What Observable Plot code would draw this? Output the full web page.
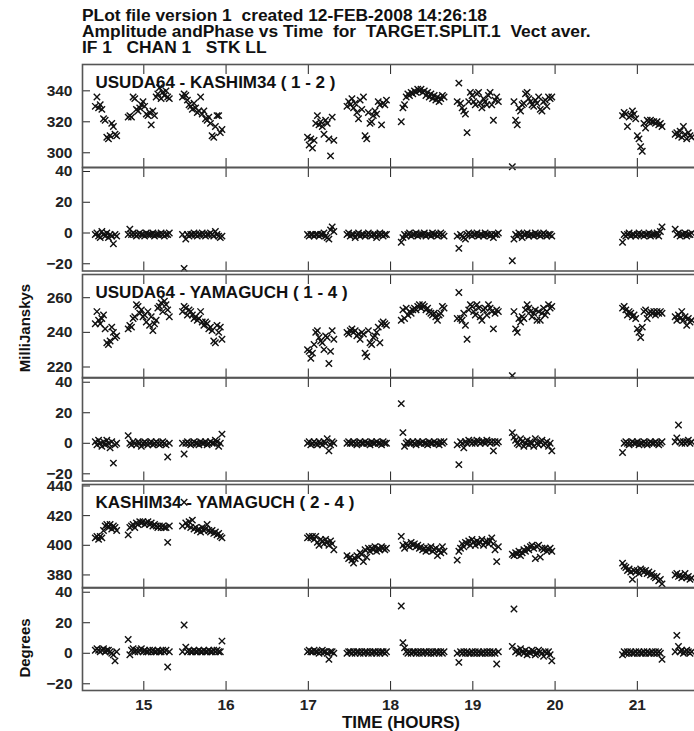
<!DOCTYPE html>
<html><head><meta charset="utf-8">
<script src="https://cdn.jsdelivr.net/npm/d3@7"></script>
<script src="https://cdn.jsdelivr.net/npm/@observablehq/plot@0.6"></script>
<style>
html,body{margin:0;padding:0;background:#fff;}
body{width:694px;height:731px;overflow:hidden;position:relative;font-family:"Liberation Sans",Arial,sans-serif;font-weight:bold;color:#111;}
#title{position:absolute;left:82px;top:7px;font-size:17.4px;line-height:16px;white-space:pre;}
.ylab{position:absolute;left:24px;font-size:15px;line-height:15px;white-space:nowrap;transform:translate(-50%,-50%) rotate(-90deg);}
#xlab{position:absolute;left:401px;top:714px;font-size:17px;line-height:17px;white-space:nowrap;transform:translateX(-50%);}
.panel{position:absolute;left:0;}
</style></head>
<body>
<div id="title">PLot file version 1  created 12-FEB-2008 14:26:18
Amplitude andPhase vs Time  for  TARGET.SPLIT.1  Vect aver.
IF 1   CHAN 1   STK LL</div>
<div class="ylab" style="top:328px">MilliJanskys</div>
<div class="ylab" style="top:648px">Degrees</div>
<div id="xlab">TIME (HOURS)</div>
<div id="charts"></div>
<script>
// ---- data (hours; mJy; degrees), one sub-array per scan ----
const scanTimes = [
 [14.41,14.43,14.45,14.47,14.49,14.51,14.53,14.55,14.57,14.59,14.61,14.63,14.65,14.67],
 [14.81,14.83,14.85,14.87,14.89,14.91,14.93,14.95,14.97,14.99,15.01,15.03,15.05,15.07,15.09,15.11,15.13,15.15,15.17,15.19,15.21,15.23,15.25,15.27,15.29,15.31],
 [15.47,15.49,15.51,15.53,15.55,15.57,15.59,15.61,15.63,15.65,15.67,15.69,15.71,15.73,15.75,15.77,15.79,15.81,15.83,15.85,15.87,15.89,15.91,15.93,15.95],
 [16.99,17.01,17.03,17.05,17.07,17.09,17.11,17.13,17.15,17.17,17.19,17.21,17.23,17.25,17.27,17.29,17.31],
 [17.47,17.49,17.51,17.53,17.55,17.57,17.59,17.61,17.63,17.65,17.67,17.69,17.71,17.73,17.75,17.77,17.79,17.81,17.83,17.85,17.87,17.89,17.91,17.93,17.95],
 [18.13,18.15,18.17,18.19,18.21,18.23,18.25,18.27,18.29,18.31,18.33,18.35,18.37,18.39,18.41,18.43,18.45,18.47,18.49,18.51,18.53,18.55,18.57,18.59,18.61,18.63,18.65],
 [18.81,18.83,18.85,18.87,18.89,18.91,18.93,18.95,18.97,18.99,19.01,19.03,19.05,19.07,19.09,19.11,19.13,19.15,19.17,19.19,19.21,19.23,19.25,19.27,19.29,19.31],
 [19.48,19.50,19.52,19.54,19.56,19.58,19.60,19.62,19.64,19.66,19.68,19.70,19.72,19.74,19.76,19.78,19.80,19.82,19.84,19.86,19.88,19.90,19.92,19.94,19.96],
 [20.82,20.84,20.86,20.88,20.90,20.92,20.94,20.96,20.98,21.00,21.02,21.04,21.06,21.08,21.10,21.12,21.14,21.16,21.18,21.20,21.22,21.24,21.26,21.28,21.30],
 [21.46,21.48,21.50,21.52,21.54,21.56,21.58,21.60,21.62,21.64,21.66]
];
const amp12 = [
 [330,336,329,331,328,322,321,310,309,311,319,317,312,311],
 [323,324,323,336,335,328,327,329,331,333,330,325,324,326,318,327,324,336,338,342,335,339,337,340,336,335],
 [336,338,337,334,331,330,328,332,329,326,327,336,325,327,322,321,323,319,311,310,317,324,324,313,315],
 [310,305,309,303,308,319,324,318,320,317,312,321,319,309,298,323,308],
 [330,333,331,335,329,332,326,322,334,328,336,311,309,326,319,320,324,327,325,333,331,318,332,331,334],
 [320,329,331,336,338,337,339,338,340,339,341,340,341,339,340,337,339,336,338,335,337,334,336,333,335,337,336],
 [333,345,332,329,327,325,313,333,339,337,333,331,338,339,332,329,335,333,331,337,339,331,321,334,336,333],
 [291,333,321,318,329,327,331,332,338,339,335,333,331,330,334,332,336,328,327,333,334,330,336,335,336],
 [324,326,325,317,323,324,327,325,322,311,309,304,301,319,316,321,320,321,320,320,319,320,318,319,317],
 [312,313,311,314,310,317,312,309,313,311,310]
];
const phs12 = [
 [-1,0,-2,-3,1,-1,-2,0,-3,-1,-2,-7,-1,-2],
 [-1,2.5,-1,0,-1,-2,-1,0,-1,-1,-2,0,-1,-1,-1,0,-2,-1,-1,-1,0,-1,-2,-1,-1,0],
 [-1,-23,-4,-1,-2,-1,-1,0,-1,-2,-1,-1,0,-1,-2,-1,-1,0,-1,-2,1,-1,-2,-3,-2],
 [-1,-2,-1,-1,-2,-1,-1,-2,-1,-1,0,-2,-3,-4,2,4,1],
 [-1,0,-2,-1,-1,-3,-1,0,-2,-1,-1,-2,-1,0,-1,-2,-1,-1,-3,-1,0,-1,-2,-1,-1],
 [-6,-3,-1,-2,-1,0,-2,-1,-1,0,-2,-1,-1,-1,0,-2,-1,-1,-2,0,-1,-1,-2,-1,0,-1,-2],
 [-2,-10,-1,-2,-3,-4,-1,0,-1,-2,-1,-1,0,-2,-1,-1,-2,0,-1,-1,-2,-1,-3,-1,-1,0],
 [-18,-4,-1,-2,0,-1,-3,-1,-1,0,-2,-1,-1,-2,0,-1,-1,-2,-1,0,-1,-2,-1,-1,-2],
 [-6,-1,-2,-1,0,-2,-1,-1,-2,-1,0,-1,-1,-2,-1,-1,0,-2,-1,-1,-1,0,-2,1,4],
 [2.5,-1,0,-2,-1,-1,0,-2,-1,-1,0]
];
const amp14 = [
 [245,252,247,245,248,250,242,234,233,235,243,240,237,238],
 [242,244,243,248,249,256,255,251,253,249,250,246,252,244,249,241,245,247,254,255,257,252,258,256,253,249],
 [252,255,254,250,253,252,250,248,249,247,248,252,246,244,246,245,242,243,241,235,234,244,240,243,236],
 [230,229,225,228,233,240,241,237,235,234,230,238,237,222,229,241,236],
 [240,239,241,242,240,241,238,239,236,240,239,228,226,241,234,233,237,238,240,243,234,245,246,245,244],
 [247,253,248,254,250,252,251,253,254,253,255,256,254,256,255,253,254,252,251,250,251,249,247,250,251,255,254],
 [248,263,248,247,251,244,236,253,256,255,252,250,256,254,249,247,253,254,250,256,254,252,242,251,253,252],
 [215,252,242,240,248,246,249,248,253,256,254,252,249,251,253,247,252,247,251,254,250,252,256,254,255],
 [254,255,253,250,252,251,249,250,248,242,240,237,243,252,253,248,251,252,251,252,250,252,251,252,251],
 [249,247,250,248,252,247,249,244,248,246,247]
];
const phs14 = [
 [1,-1,2,0,-2,1,-1,2,0,-3,1,-13,-1,0],
 [5,0,-1,1,0,-1,1,0,-2,0,1,0,-1,0,1,-1,0,1,0,-1,0,1,0,-1,-9,0],
 [0,-7,0,1,0,-1,0,1,0,0,-1,1,0,0,1,-1,0,1,0,0,2,1,-2,0,6],
 [0,1,-1,0,1,0,-1,1,0,-1,1,0,3,-5,-1,1,0],
 [0,1,0,0,1,0,-1,0,1,0,0,1,0,0,-1,1,0,0,1,0,0,-1,1,0,0],
 [26,7,-2,0,1,0,0,1,0,-1,1,0,0,1,0,0,-1,1,0,0,1,0,0,-1,1,0,1],
 [-1,-14,1,0,-3,1,0,2,1,0,1,0,2,1,0,1,1,0,2,1,0,1,-5,1,0,1],
 [7,4,2,0,-1,3,1,-2,0,2,-1,1,0,-2,3,0,-1,1,2,-1,0,1,-2,0,-5],
 [-6,0,1,0,-1,0,1,0,0,1,-1,0,0,1,0,-1,0,1,0,0,1,0,-1,0,1],
 [1,3.5,12,1,0,1,0,1,2,0,1]
];
const amp24 = [
 [405,406,404,406,405,410,413,414,412,414,411,413,412,410],
 [407,412,413,414,412,415,414,416,415,416,414,415,416,414,415,413,414,413,412,413,412,413,412,412,402,413],
 [413,429,415,413,416,412,417,411,412,410,411,409,412,410,411,414,410,409,410,408,409,407,408,406,405],
 [405,406,405,406,404,406,402,400,404,403,401,404,402,400,403,401,397],
 [393,391,392,390,388,391,393,392,395,394,389,397,392,398,396,398,397,399,396,398,397,399,398,397,398],
 [406,400,398,401,400,399,402,400,401,399,400,398,399,397,398,396,398,397,399,396,397,398,393,397,395,399,396],
 [390,396,398,401,399,402,401,403,400,404,402,400,403,401,402,404,400,402,403,401,403,405,401,397,389,399],
 [394,393,395,394,396,393,395,397,396,398,397,399,400,398,391,399,400,392,398,397,398,396,397,398,396],
 [388,386,385,383,384,382,377,383,382,383,381,384,383,382,383,381,382,380,381,379,378,379,376,377,374],
 [380,381,379,380,378,379,381,378,379,377,378]
];
const phs24 = [
 [2,3,2,1,2,3,1,2,2,1,0,-1,-5,1],
 [9,-1,2,3,1,2,1,2,3,1,2,1,1,2,1,2,1,1,2,1,1,2,1,2,-9,1],
 [1,18.5,4,1,2,1,1,2,1,1,2,1,1,2,1,1,2,1,1,2,1,2,1,1,8],
 [1,2,1,1,2,1,1,0,1,2,1,1,0,-4,1,1,0],
 [0,1,1,0,1,0,1,1,0,1,0,1,1,0,1,0,1,1,0,1,0,1,1,0,1],
 [31,7,3.5,1,0,1,0,1,1,0,1,0,1,0,1,1,0,1,0,1,0,1,1,0,1,0,1],
 [0,-6,1,0,1,0,1,0,0,1,0,1,0,1,0,0,1,0,1,0,1,0,1,0,-7,1],
 [4.5,29,1,2,0,3,1,0,2,-1,1,0,2,1,-1,0,2,1,0,-2,1,0,1,-1,-5],
 [-1,1,0,1,0,1,0,0,1,0,1,0,0,1,0,1,0,0,1,0,1,0,1,0,-4],
 [1,11.7,4.4,1,2,0,1,2,1,0,1]
];
const baselineNames = ["USUDA64 - KASHIM34 ( 1 - 2 )", "USUDA64 - YAMAGUCH ( 1 - 4 )", "KASHIM34 - YAMAGUCH ( 2 - 4 )"];
const hourTicks = [15, 16, 17, 18, 19, 20, 21];
const ampTicks12 = [300, 320, 340];
const ampTicks14 = [220, 240, 260];
const ampTicks24 = [380, 400, 420, 440];
const phaseTicks = [-20, 0, 20, 40];

// ---- layout ----
function series(vals) {
  const out = [];
  scanTimes.forEach((ts, s) => ts.forEach((t, i) => {
    const v = vals[s] ? vals[s][i] : undefined;
    if (v != null) out.push({t, v});
  }));
  return out;
}
const panels = [
  {vals: amp12, ticks: ampTicks12, domain: [290.5, 357], top: 64, h: 103, label: baselineNames[0]},
  {vals: phs12, ticks: phaseTicks, domain: [-24.7, 42.6], top: 167, h: 103.5},
  {vals: amp14, ticks: ampTicks14, domain: [213.65, 273.4], top: 273.5, h: 103.5, label: baselineNames[1]},
  {vals: phs14, ticks: phaseTicks, domain: [-24.7, 43.1], top: 377, h: 103.5},
  {vals: amp24, ticks: ampTicks24, domain: [371.2, 441], top: 483.5, h: 103.5, label: baselineNames[2]},
  {vals: phs24, ticks: phaseTicks, domain: [-24.4, 43.1], top: 587, h: 103, last: true}
];
const INK = "#111", FRAME = "#555";
const host = document.getElementById("charts");
panels.forEach(p => {
  const marks = [
    Plot.dot(series(p.vals), {x: "t", y: "v", symbol: "times", r: 3, stroke: INK, strokeWidth: 1.4}),
    Plot.axisY(p.ticks, {anchor: "left", tickSize: -8, tickPadding: 18, label: null, color: "#222", fontSize: 15.5, fontWeight: "bold"}),
    Plot.axisY(p.ticks, {anchor: "right", tickSize: -8, tickFormat: () => "", label: null, color: "#222"}),
    Plot.axisX(hourTicks, {anchor: "top", tickSize: -9, tickFormat: () => "", label: null, color: "#222"}),
    Plot.axisX(hourTicks, {anchor: "bottom", tickSize: -9, tickPadding: 17, label: null, color: "#222",
      tickFormat: p.last ? (d => String(d)) : (() => ""), fontSize: 15.5, fontWeight: "bold"}),
    Plot.frame({stroke: FRAME, strokeWidth: 1.6})
  ];
  if (p.label) marks.push(Plot.text([p.label], {text: d => d, frameAnchor: "top-left", dx: 13, dy: 11,
    lineAnchor: "top", textAnchor: "start", fontSize: 17, fontWeight: "bold", fill: INK}));
  const svg = Plot.plot({
    width: 701, height: p.h,
    marginLeft: 82, marginRight: 0, marginTop: 0, marginBottom: 0,
    x: {domain: [14.2545, 21.78], label: null},
    y: {domain: p.domain, label: null},
    style: {overflow: "visible", maxWidth: "none", background: "transparent",
      fontFamily: "'Liberation Sans', Arial, sans-serif", fontSize: "15.5px", fontWeight: "bold", color: INK},
    marks
  });
  const wrap = document.createElement("div");
  wrap.className = "panel";
  wrap.style.top = p.top + "px";
  wrap.appendChild(svg);
  host.appendChild(wrap);
});
</script>
</body></html>
